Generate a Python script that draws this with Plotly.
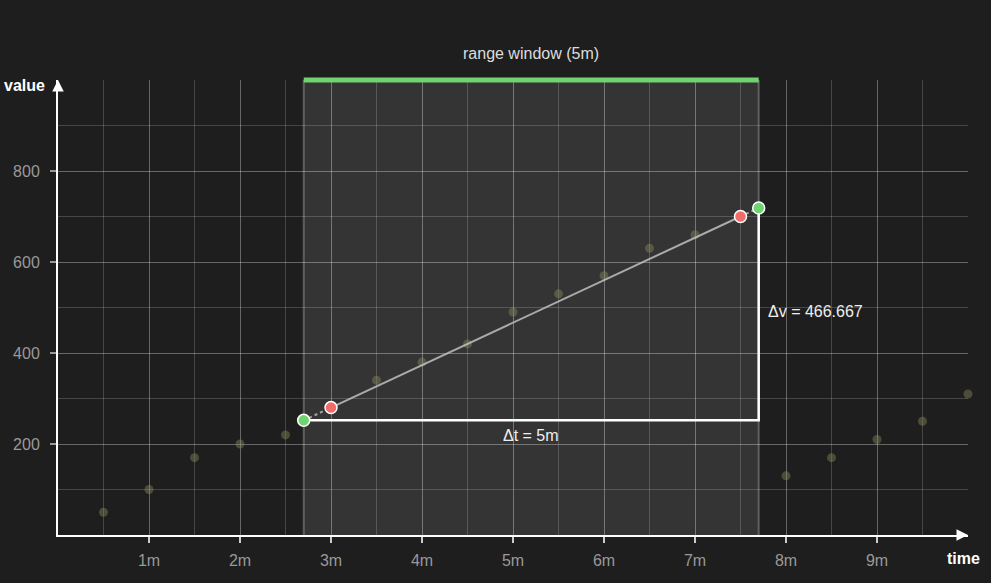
import plotly.graph_objects as go

# ---- data ----
times = [0.5, 1, 1.5, 2, 2.5, 3, 3.5, 4, 4.5, 5, 5.5, 6, 6.5, 7, 7.5, 8, 8.5, 9, 9.5, 10]
values = [50, 100, 170, 200, 220, 280, 340, 380, 420, 490, 530, 570, 630, 660, 700, 130, 170, 210, 250, 310]
x_tick_vals = [1, 2, 3, 4, 5, 6, 7, 8, 9]
x_tick_text = ["1m", "2m", "3m", "4m", "5m", "6m", "7m", "8m", "9m"]
y_tick_vals = [200, 400, 600, 800]
window_start = 2.7
window_end = 7.7
first_in = (3, 280)      # first sample inside window
last_in = (7.5, 700)     # last sample inside window

slope = (last_in[1] - first_in[1]) / (last_in[0] - first_in[0])
ext_start = (window_start, first_in[1] - slope * (first_in[0] - window_start))
ext_end = (window_end, last_in[1] + slope * (window_end - last_in[0]))

BG = "#1e1e1e"
FONT = "Liberation Sans, Arial, sans-serif"
GRID = "rgba(255,255,255,0.18)"

fig = go.Figure()

# dim samples
fig.add_trace(go.Scatter(
    x=times, y=values, mode="markers",
    marker=dict(size=9, color="rgba(140,140,95,0.42)", line=dict(width=0)),
    hoverinfo="skip", showlegend=False, cliponaxis=False))

# dotted extrapolation
fig.add_trace(go.Scatter(
    x=[ext_start[0], first_in[0]], y=[ext_start[1], first_in[1]], mode="lines",
    line=dict(color="rgba(190,190,190,0.8)", width=2, dash="dot"),
    hoverinfo="skip", showlegend=False))
fig.add_trace(go.Scatter(
    x=[last_in[0], ext_end[0]], y=[last_in[1], ext_end[1]], mode="lines",
    line=dict(color="rgba(190,190,190,0.8)", width=2, dash="dot"),
    hoverinfo="skip", showlegend=False))
# solid fit line
fig.add_trace(go.Scatter(
    x=[first_in[0], last_in[0]], y=[first_in[1], last_in[1]], mode="lines",
    line=dict(color="rgba(200,200,200,0.8)", width=2),
    hoverinfo="skip", showlegend=False))

# delta lines
fig.add_trace(go.Scatter(
    x=[ext_start[0], ext_end[0], ext_end[0]], y=[ext_start[1], ext_start[1], ext_end[1]],
    mode="lines", line=dict(color="white", width=2.5),
    hoverinfo="skip", showlegend=False))

# red points
fig.add_trace(go.Scatter(
    x=[first_in[0], last_in[0]], y=[first_in[1], last_in[1]], mode="markers",
    marker=dict(size=12, color="#f26b6b", line=dict(color="white", width=1.5)),
    hoverinfo="skip", showlegend=False, cliponaxis=False))
# green points
fig.add_trace(go.Scatter(
    x=[ext_start[0], ext_end[0]], y=[ext_start[1], ext_end[1]], mode="markers",
    marker=dict(size=12, color="#6fd46f", line=dict(color="white", width=1.5)),
    hoverinfo="skip", showlegend=False, cliponaxis=False))

shapes = [
    dict(type="rect", xref="x", yref="y", x0=window_start, x1=window_end, y0=0, y1=1000,
         fillcolor="rgba(255,255,255,0.1)", line=dict(width=0), layer="below"),
    dict(type="line", xref="x", yref="y", x0=window_start, x1=window_start, y0=0, y1=1000,
         line=dict(color="rgba(255,255,255,0.25)", width=2), layer="below"),
    dict(type="line", xref="x", yref="y", x0=window_end, x1=window_end, y0=0, y1=1000,
         line=dict(color="rgba(255,255,255,0.25)", width=2), layer="below"),
    dict(type="line", xref="x", yref="paper", x0=window_start, x1=window_end, y0=1, y1=1,
         line=dict(color="#6fd46f", width=5), layer="above"),
]

annotations = [
    dict(x=0.52, y=1.0593, xref="paper", yref="paper", text="range window (5m)",
         xanchor="center", yanchor="middle", showarrow=False,
         font=dict(family=FONT, size=16, color="#dddddd")),
    dict(x=(window_start + window_end) / 2, y=218, xref="x", yref="y", text="Δt = 5m",
         xanchor="center", yanchor="middle", showarrow=False,
         font=dict(family=FONT, size=16, color="#eeeeee")),
    dict(x=7.78, y=492, xref="x", yref="y", text="Δv = 466.667", xanchor="left",
         yanchor="middle", showarrow=False, font=dict(family=FONT, size=16, color="#eeeeee")),
    dict(x=-0.0121, y=0.989, xref="paper", yref="paper", text="<b>value</b>", xanchor="right",
         yanchor="middle", showarrow=False, font=dict(family=FONT, size=16, color="white")),
    dict(x=0.9956, y=-0.0527, xref="paper", yref="paper", text="<b>time</b>",
         xanchor="center", yanchor="middle", showarrow=False,
         font=dict(family=FONT, size=16, color="white")),
    # axis arrowheads
    dict(x=1, y=0, xref="paper", yref="paper", ax=-12, ay=0, text="", showarrow=True,
         arrowhead=2, arrowsize=1.15, arrowwidth=2, arrowcolor="white", standoff=0),
    dict(x=0, y=1, xref="paper", yref="paper", ax=0, ay=12, text="", showarrow=True,
         arrowhead=2, arrowsize=1.15, arrowwidth=2, arrowcolor="white", standoff=0),
]

fig.update_layout(
    width=991, height=583,
    margin=dict(l=58, r=23, t=80, b=48),
    paper_bgcolor=BG, plot_bgcolor=BG,
    font=dict(family=FONT, size=16, color="#999999"),
    shapes=shapes, annotations=annotations,
    showlegend=False,
    xaxis=dict(range=[0, 10], tickvals=x_tick_vals, ticktext=x_tick_text,
               showgrid=True, gridcolor=GRID, gridwidth=1,
               minor=dict(dtick=0.5, tick0=0, showgrid=True, gridcolor=GRID, gridwidth=1),
               zeroline=False, showline=True, linecolor="white", linewidth=2,
               ticks="outside", ticklen=6, tickwidth=2, tickcolor="#cccccc",
               ticklabelstandoff=4,
               tickfont=dict(color="#999999", size=16), fixedrange=True),
    yaxis=dict(range=[0, 1000], tickvals=y_tick_vals,
               showgrid=True, gridcolor=GRID, gridwidth=1,
               minor=dict(dtick=100, tick0=0, showgrid=True, gridcolor=GRID, gridwidth=1),
               zeroline=False, showline=True, linecolor="white", linewidth=2,
               ticks="outside", ticklen=6, tickwidth=2, tickcolor="#999999",
               ticklabelstandoff=7,
               tickfont=dict(color="#999999", size=16), fixedrange=True),
)

fig.write_html("out.html", config={"displayModeBar": False},
               post_script="document.body.style.margin='0';document.body.style.background='#1e1e1e';")
